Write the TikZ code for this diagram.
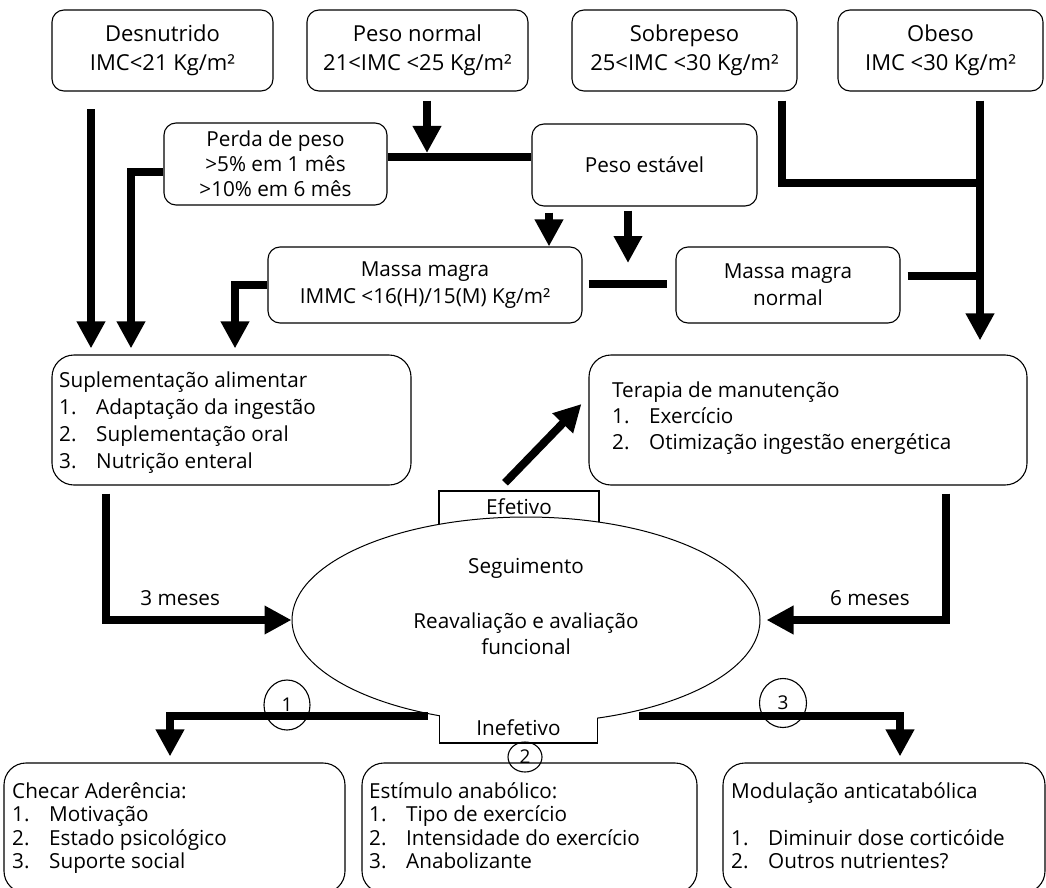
\documentclass[tikz,border=0pt]{standalone}
\usepackage{fontspec}
\setmainfont{Open Sans}
\usetikzlibrary{arrows.meta,calc,shapes.geometric}
\begin{document}
\begin{tikzpicture}[x=1pt,y=-1pt,
  every node/.style={inner sep=0pt},
  ftop/.style={font=\fontsize{22}{29}\selectfont},
  fmid/.style={font=\fontsize{20.7}{25}\selectfont},
  rbox/.style={draw,line width=1.1pt,rounded corners=12pt,align=center},
  panel/.style={draw,line width=1.1pt,rounded corners=22pt},
  conn/.style={line width=8pt,line join=miter},
  arr/.style={conn,-{Triangle[width=27pt,length=27pt]}},
  tag/.style={draw,ellipse,line width=1.1pt,font=\fontsize{19}{24}\selectfont},
  frame/.style={line width=1.5pt},
  lstA/.style={anchor=base west,font=\fontsize{20.7}{27}\selectfont},
  lstB/.style={anchor=base west,font=\fontsize{20.7}{23.5}\selectfont},
]
\useasboundingbox (0,0) rectangle (1046,888);
\clip (0,0) rectangle (1046,888);

% ---- BMI classes
\node[rbox,ftop,minimum width=221pt,minimum height=81pt] (des) at (162.5,50.5) {Desnutrido\\IMC<21 Kg/m²};
\node[rbox,ftop,minimum width=221pt,minimum height=81pt] (pn)  at (417.5,50.5) {Peso normal\\21<IMC <25 Kg/m²};
\node[rbox,ftop,minimum width=225pt,minimum height=81pt] (sob) at (684.5,50.5) {Sobrepeso\\25<IMC <30 Kg/m²};
\node[rbox,ftop,minimum width=205pt,minimum height=81pt] (obe) at (940.5,50.5) {Obeso\\IMC <30 Kg/m²};

% ---- weight evolution
\node[rbox,fmid,minimum width=223pt,minimum height=82pt] (perda) at (275.5,164) {Perda de peso\\>5\% em 1 mês\\>10\% em 6 mês};
\node[rbox,fmid,minimum width=225pt,minimum height=82pt] (estavel) at (644.5,165) {Peso estável};

% ---- lean mass
\node[rbox,font=\fontsize{20.7}{27}\selectfont,minimum width=314pt,minimum height=76pt] (mmb) at (425,285) {Massa magra\\IMMC <16(H)/15(M) Kg/m²};
\node[rbox,font=\fontsize{20.7}{27}\selectfont,minimum width=224pt,minimum height=76pt] (mmn) at (788,285) {Massa magra\\normal};

% ---- therapy panels
\node[panel,minimum width=359pt,minimum height=130pt] (supl) at (231.5,420) {};
\node[lstA] (supltxt) at (59,387) {\begin{tabular}[t]{@{}p{37pt}@{}l@{}}
\multicolumn{2}{@{}l@{}}{Suplementação alimentar}\\
1. & Adaptação da ingestão\\
2. & Suplementação oral\\
3. & Nutrição enteral
\end{tabular}};
\node[panel,minimum width=438pt,minimum height=130pt] (ter) at (808,420) {};
\node[lstA,font=\fontsize{20.7}{26}\selectfont] (tertxt) at (612,397) {\begin{tabular}[t]{@{}p{37pt}@{}l@{}}
\multicolumn{2}{@{}l@{}}{Terapia de manutenção}\\
1. & Exercício\\
2. & Otimização ingestão energética
\end{tabular}};

% ---- follow-up
\node[fmid] (efet) at (519,506.5) [minimum width=160pt,minimum height=31pt] {Efetivo};
\draw[frame] ($(efet.south west)+(0,8)$) -- (efet.north west) -- (efet.north east) -- ($(efet.south east)+(0,8)$);
\node[draw,ellipse,fill=white,line width=1pt,minimum width=468pt,minimum height=206pt] (seg) at (526,620) {};
\node[fmid,anchor=base] (segt1) at (526,573) {Seguimento};
\node[fmid,anchor=base] (segt2) at (526,628) {Reavaliação e avaliação};
\node[fmid,anchor=base] (segt3) at (526,654) {funcional};
\node[fmid,fill=white,minimum width=157.5pt,minimum height=31pt] (inef) at (518.5,727.5) {Inefetivo};
\draw[frame] ($(inef.south west)+(0,-27.5)$) -- (inef.south west) -- (inef.south east) -- ++(0,-25);

% ---- ineffective branches
\node[panel,minimum width=341pt,minimum height=130pt] (chk) at (174.5,828) {};
\node[lstB] (chktxt) at (12,798) {\begin{tabular}[t]{@{}p{37pt}@{}l@{}}
\multicolumn{2}{@{}l@{}}{Checar Aderência:}\\
1. & Motivação\\
2. & Estado psicológico\\
3. & Suporte social
\end{tabular}};
\node[panel,minimum width=335pt,minimum height=130pt] (est) at (529.5,828) {};
\node[lstB] (esttxt) at (369,798) {\begin{tabular}[t]{@{}p{37pt}@{}l@{}}
\multicolumn{2}{@{}l@{}}{Estímulo anabólico:}\\
1. & Tipo de exercício\\
2. & Intensidade do exercício\\
3. & Anabolizante
\end{tabular}};
\node[panel,minimum width=322pt,minimum height=130pt] (mod) at (884,828) {};
\node[lstB] (modtxt) at (731,798) {\begin{tabular}[t]{@{}p{37pt}@{}l@{}}
\multicolumn{2}{@{}l@{}}{Modulação anticatabólica}\\
 & \\
1. & Diminuir dose corticóide\\
2. & Outros nutrientes?
\end{tabular}};

% ---- connectors, upper part
\draw[arr] ($(des.south)+(-71.5,17.5)$) -- ($(supl.north)+(-140.5,-6)$);
\draw[arr] ($(perda.west)+(0,8)$) -| ($(supl.north)+(-100.5,-6)$);
\coordinate (bar) at ($(perda.east)+(0,-7)$);
\draw[conn] (bar) -- (bar -| estavel.west);
\coordinate (pn1) at ($(pn.south)+(9.5,9)$);
\draw[arr,shorten >=4pt] (pn1) -- (pn1 |- bar);
\coordinate (pe1) at ($(estavel.south)+(-95.5,6)$);
\draw[arr] (pe1) -- (pe1 |- mmb.north);
\coordinate (mid) at ($(mmb.east)!0.5!(mmn.west)$);
\draw[conn] ($(mmb.east)+(6,-1)$) -- ($(mmn.west)+(-8,-1)$);
\coordinate (pe2) at ($(estavel.south)+(-16.5,4)$);
\draw[arr,shorten >=22pt] (pe2) -- (pe2 |- mid);
\draw[arr] (mmb.west) -| ($(supl.north)+(3.5,-6)$);
\coordinate (ob1) at ($(obe.south)+(39.5,9)$);
\coordinate (sb1) at ($(sob.south)+(97.5,9)$);
\draw[arr,shorten >=14pt] (ob1) -- (ob1 |- ter.north);
\draw[conn] (sb1) |- ($(ob1)+(0,82)$);
\coordinate (mn1) at ($(mmn.east)+(7,-9)$);
\draw[conn] (mn1) -- (mn1 -| ob1);

% ---- connectors to and from the follow-up
\coordinate (sp1) at ($(supl.south)+(-125.5,8)$);
\draw[arr] (sp1) |- (seg.west) node[fmid,pos=0.70,above=10pt] (lab3) {3 meses};
\coordinate (tp1) at ($(ter.south)+(138,8)$);
\draw[arr,shorten >=6pt] (tp1) |- (seg.east) node[fmid,pos=0.705,above=10pt] (lab6) {6 meses};
\draw[arr] ($(efet.north)+(-14,-8)$) -- ($(ter.west)+(-7,-16)$);
\draw[arr] ($(inef.west)+(-12,-11.5)$) -| ($(chk.north)+(-4.5,-6)$);
\draw[arr] ($(inef.east)+(42,-11.5)$) -| ($(mod.north)+(16,-6)$);

% ---- numbered tags
\node[tag,minimum width=46pt,minimum height=50pt] (n1) at (287,705) {1};
\node[tag,minimum width=34pt,minimum height=30pt] (n2) at (525,757) {2};
\node[tag,minimum width=47pt,minimum height=49pt] (n3) at (783,703) {3};
\end{tikzpicture}
\end{document}
